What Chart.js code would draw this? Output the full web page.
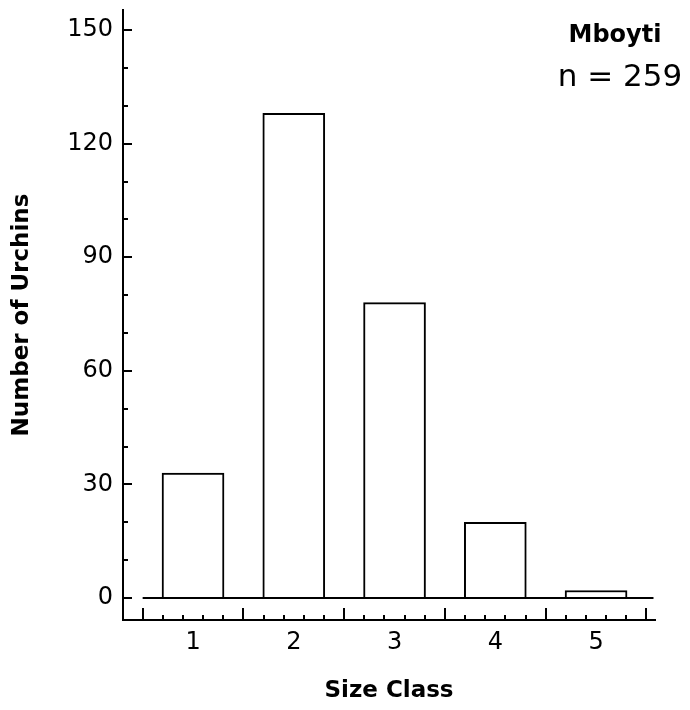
<!DOCTYPE html>
<html>
<head>
<meta charset="utf-8">
<script src="https://cdn.jsdelivr.net/npm/chart.js@4/dist/chart.umd.min.js"></script>
<style>
  html, body { margin: 0; padding: 0; background: #fff; }
  #wrap { width: 690px; height: 710px; }
</style>
</head>
<body>
<div id="wrap"><canvas id="sizeChart" width="690" height="710"></canvas></div>
<script>
var sizeClasses = [1, 2, 3, 4, 5];
var urchinCounts = [33, 128, 78, 20, 2];
var yTickValues = [0, 30, 60, 90, 120, 150];
var siteName = 'Mboyti';
var sampleLabel = 'n = 259';

var barPoints = sizeClasses.map(function(c, i) {
    return { x: c, y: urchinCounts[i] };
});

// little tick marks pointing into the plot, like the original
var inwardTicks = {
    id: 'inwardTicks',
    afterDraw: function(chart) {
        var ctx = chart.ctx;
        var xs = chart.scales.x;
        var ys = chart.scales.y;
        ctx.save();
        ctx.strokeStyle = '#000';
        ctx.lineWidth = 2;
        for (var v = 0; v <= 150; v += 10) {
            var py = Math.round(ys.getPixelForValue(v));
            var len = (v % 30 === 0) ? 9 : 5;
            ctx.beginPath();
            ctx.moveTo(ys.right, py);
            ctx.lineTo(ys.right + len, py);
            ctx.stroke();
        }
        for (var k = 0; k <= 25; k++) {
            var px = Math.round(xs.getPixelForValue(0.5 + k * 0.2));
            var tl = (k % 5 === 0) ? 12 : 5;
            ctx.beginPath();
            ctx.moveTo(px, xs.top);
            ctx.lineTo(px, xs.top - tl);
            ctx.stroke();
        }
        ctx.fillStyle = '#000';
        ctx.textAlign = 'center';
        ctx.textBaseline = 'alphabetic';
        ctx.font = 'bold 24px "DejaVu Sans", sans-serif';
        ctx.fillText(siteName, 615, 42);
        ctx.font = '31px "DejaVu Sans", sans-serif';
        ctx.fillText(sampleLabel, 620, 86);
        ctx.restore();
    }
};

var ctx = document.getElementById('sizeChart').getContext('2d');
var sizeChart = new Chart(ctx, {
    type: 'bar',
    data: {
        datasets: [
            {
                type: 'line',
                data: [{ x: 0.5, y: 0 }, { x: 5.57, y: 0 }],
                borderColor: '#000',
                borderWidth: 2,
                pointRadius: 0,
                order: 0
            },
            {
                data: barPoints,
                backgroundColor: '#fff',
                borderColor: '#000',
                borderWidth: 2,
                barThickness: 62,
                order: 1
            }
        ]
    },
    options: {
        responsive: false,
        animation: false,
        layout: { autoPadding: false, padding: { left: 0, top: 10, right: 35, bottom: 0 } },
        plugins: {
            legend: { display: false },
            tooltip: { enabled: false }
        },
        scales: {
            x: {
                type: 'linear',
                offset: false,
                min: 0.305,
                max: 5.585,
                afterBuildTicks: function(scale) {
                    scale.ticks = sizeClasses.map(function(c) { return { value: c }; });
                },
                afterFit: function(scale) {
                    scale.height = 90;
                    scale.paddingLeft = 0;
                    scale.paddingRight = 0;
                },
                grid: { display: false, drawTicks: false },
                border: { display: true, color: '#000', width: 2 },
                ticks: {
                    color: '#000',
                    padding: 8,
                    font: { family: '"DejaVu Sans", sans-serif', size: 24 }
                },
                title: {
                    display: true,
                    text: 'Size Class',
                    color: '#000',
                    padding: { top: 0, bottom: 5 },
                    font: { family: '"DejaVu Sans", sans-serif', size: 23, weight: 'bold' }
                }
            },
            y: {
                min: -5.8,
                max: 155.3,
                afterBuildTicks: function(scale) {
                    scale.ticks = yTickValues.map(function(v) { return { value: v }; });
                },
                afterFit: function(scale) {
                    scale.width = 123;
                    scale.paddingTop = 0;
                    scale.paddingBottom = 0;
                },
                grid: { display: false, drawTicks: false },
                border: { display: true, color: '#000', width: 2 },
                ticks: {
                    color: '#000',
                    padding: 10,
                    font: { family: '"DejaVu Sans", sans-serif', size: 24 }
                },
                title: {
                    display: true,
                    text: 'Number of Urchins',
                    color: '#000',
                    padding: { top: 8, bottom: 0 },
                    font: { family: '"DejaVu Sans", sans-serif', size: 23, weight: 'bold' }
                }
            }
        }
    },
    plugins: [inwardTicks]
});
</script>
</body>
</html>
